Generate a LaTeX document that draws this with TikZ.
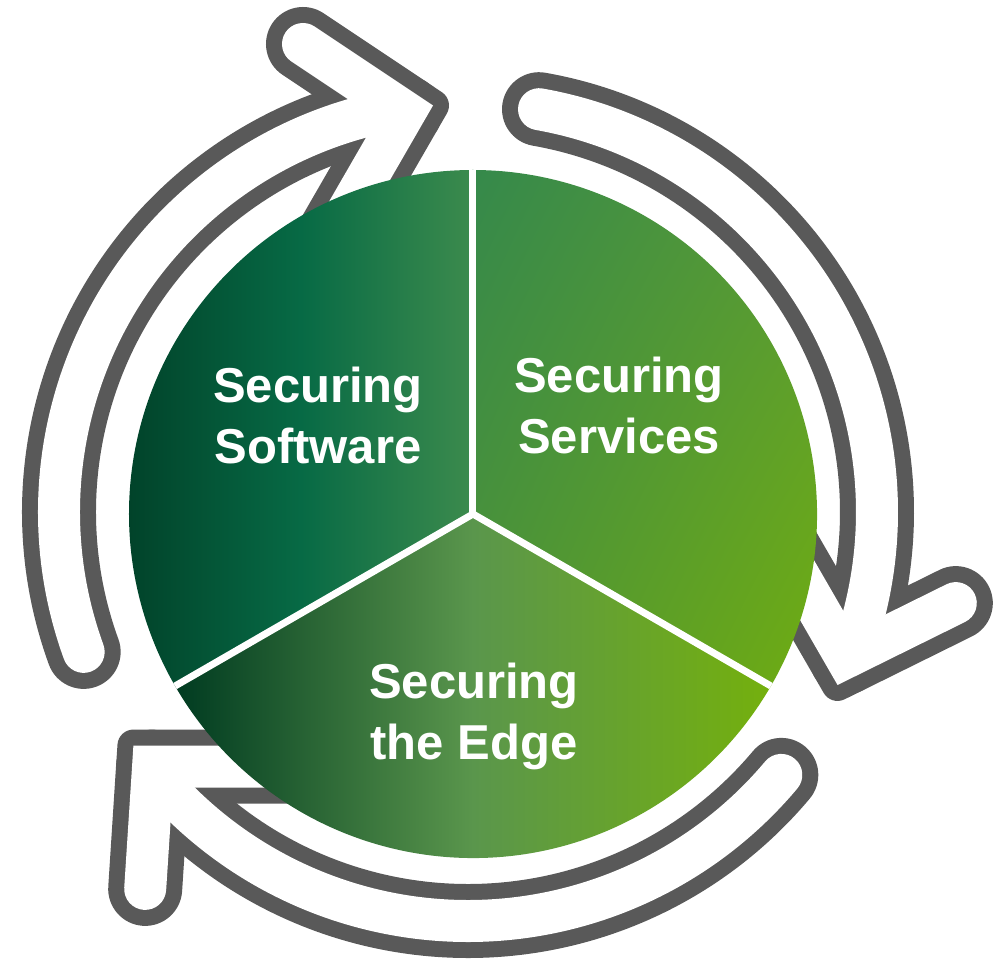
\documentclass[tikz,border=0pt]{standalone}
\usepackage{fontspec}
\usetikzlibrary{shadings}
\newfontfamily\labelfont{Liberation Sans}

\definecolor{ringgray}{HTML}{595959}
\definecolor{softleft}{HTML}{01432A}
\definecolor{softmid}{HTML}{076A45}
\definecolor{softright}{HTML}{3C8B4D}
\definecolor{servul}{HTML}{35894B}
\definecolor{servur}{HTML}{5C9C35}
\definecolor{servll}{HTML}{4F9436}
\definecolor{servlr}{HTML}{74B00C}
\definecolor{edgeleft}{HTML}{003B21}
\definecolor{edgemid}{HTML}{5A964C}
\definecolor{edgeright}{HTML}{74B00D}

\tikzset{
  rim/.style={draw=ringgray, line width=74pt, line cap=round, line join=round},
  rimtip/.style={fill=ringgray, draw=ringgray, line width=32pt, line join=round},
  hollow/.style={draw=white, line width=42pt, line cap=round},
  divider/.style={draw=white, line width=7pt},
  pietext/.style={text=white, font=\labelfont\bfseries\fontsize{49}{61}\selectfont, align=center, inner sep=0pt}
}

\begin{document}
\begin{tikzpicture}[x=1pt,y=1pt]
\useasboundingbox (-468,-449) rectangle (539,512);

\coordinate (ctr) at (5,-2);

% arrows: grey rim first, then the white inside
\foreach \r in {0,-120,-240}{
  \draw[rim,rotate=\r] (200:409) arc[start angle=200,end angle=103,radius=409];
  \draw[rim,rotate=\r] (-165,468) -- (-63,400) -- (-145.5,257.1);
  \filldraw[rimtip,rotate=\r] (-35,406.5) -- (-51.6,417.6) -- (-45,389.2) -- cycle;
}
\foreach \r in {0,-120,-240}{
  \draw[hollow,rotate=\r] (200:409) arc[start angle=200,end angle=103,radius=409];
  \draw[hollow,rotate=\r] (-165,468) -- (-63,400) -- (-145.5,257.1);
}

\shade[left color=softleft, right color=softright, middle color=softmid]
  (ctr) -- ++(90:344) arc[start angle=90,end angle=210,radius=344] -- cycle;
\shade[upper left=servul, upper right=servur, lower left=servll, lower right=servlr]
  (ctr) -- ++(-30:344) arc[start angle=-30,end angle=90,radius=344] -- cycle;
\shade[left color=edgeleft, right color=edgeright, middle color=edgemid]
  (ctr) -- ++(210:344) arc[start angle=210,end angle=330,radius=344] -- cycle;

\foreach \d in {90,210,330}
  \draw[divider] (ctr) -- ++(\d:344);

\node[pietext] (software) at (-150,96.5) {Securing\\Software};
\node[pietext] (services) at (151,106.5) {Securing\\Services};
\node[pietext] (edge) at (6,-204) {Securing\\the Edge};
\end{tikzpicture}
\end{document}
